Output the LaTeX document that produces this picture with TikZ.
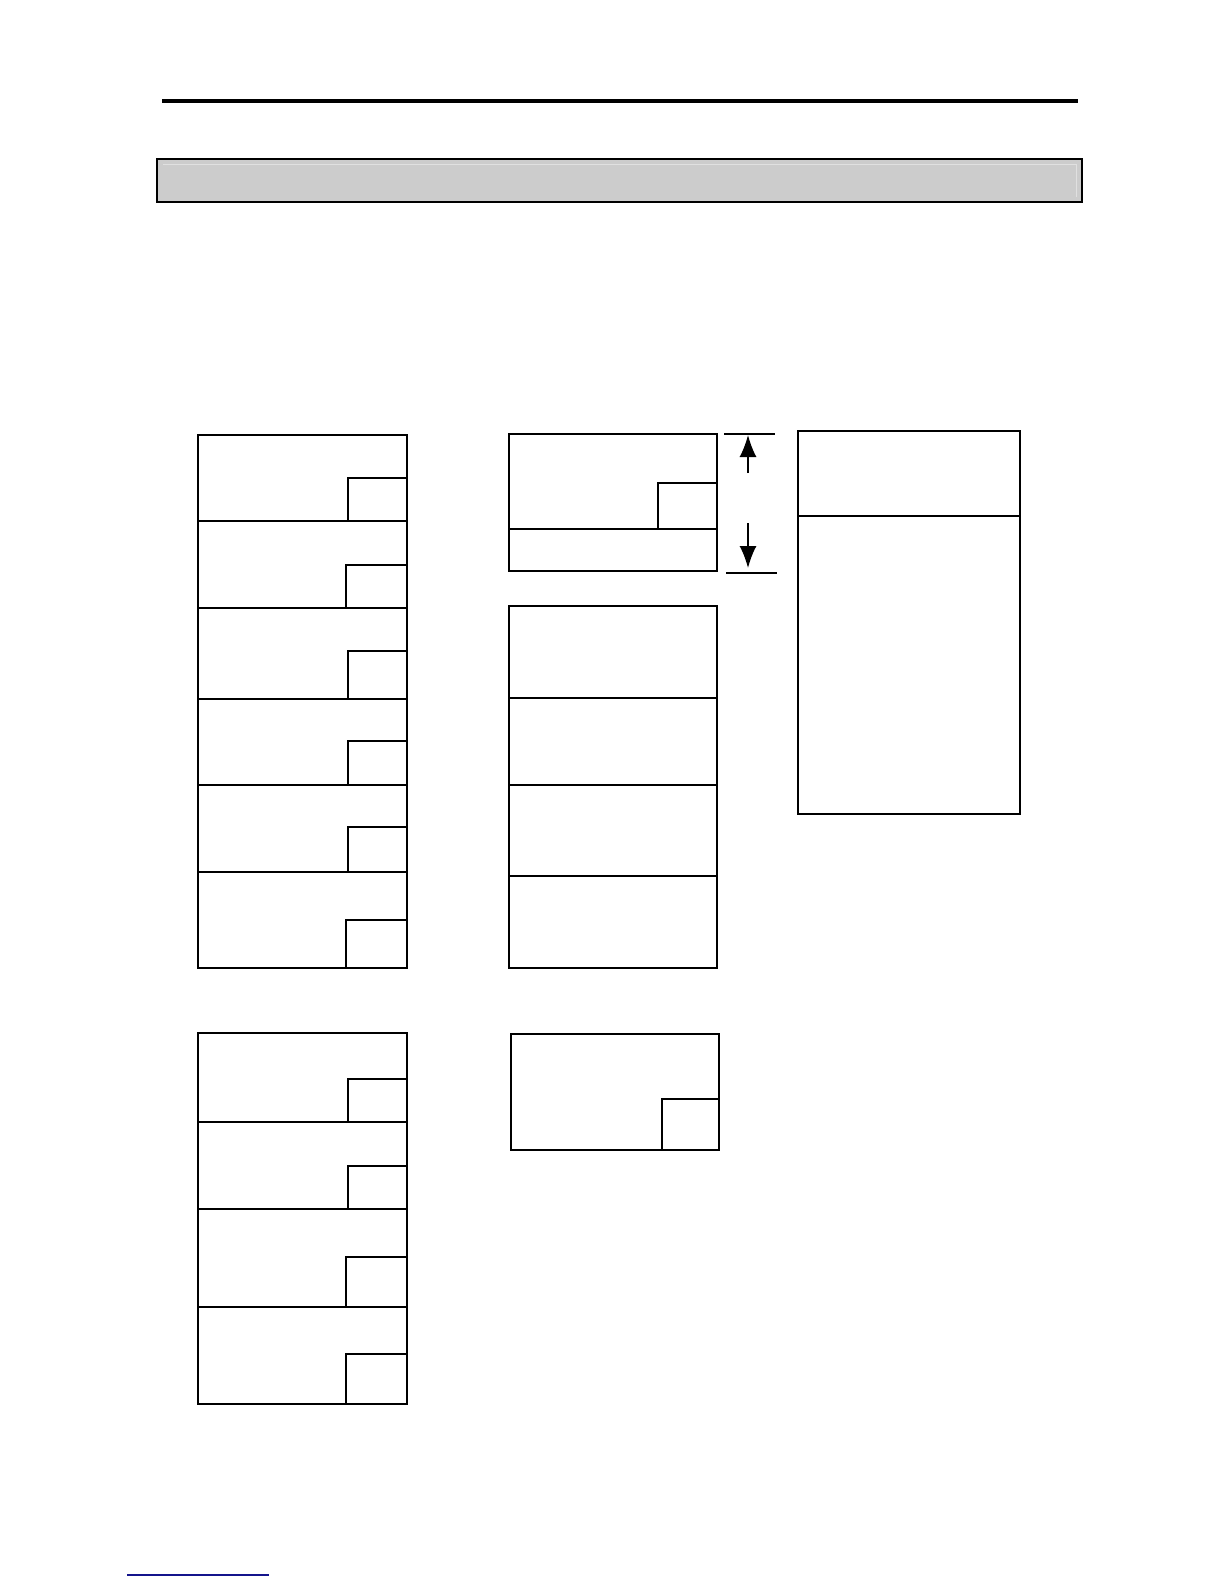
\documentclass[tikz,border=0pt]{standalone}
\usetikzlibrary{arrows.meta}
\begin{document}
\begin{tikzpicture}[x=0.5bp, y=-0.5bp, >={Latex[length=11bp,width=8.5bp]},
        frame/.style={draw, line width=1bp},
        tab/.style={draw, line width=1.1bp},
        dimline/.style={draw, line width=0.8bp}]
        \useasboundingbox (0,0) rectangle (1224,1584);
        % header rule and title bar
        \draw[line width=2bp] (162,101) -- (1078,101);
        \draw[fill=black!20, line width=0.8bp] (157,159) rectangle (1082,202);
        \draw[black!12, line width=0.5bp] (163,164) -- (1076,164) -- (1076,197);
        % left stack, upper
        \foreach \ytop/\ybot/\ytab/\xtab in {435/521/478/348, 521/608/565/346, 608/699/651/348,
                699/785/741/348, 785/872/827/348, 872/968/920/346}
        {
            \draw[frame] (198,\ytop) rectangle (407,\ybot);
            \draw[tab] (\xtab,\ybot) |- (407,\ytab);
        }
        % left stack, lower
        \foreach \ytop/\ybot/\ytab/\xtab in {1033/1122/1079/348, 1122/1209/1166/348,
                1209/1307/1257/346, 1307/1404/1354/346}
        {
            \draw[frame] (198,\ytop) rectangle (407,\ybot);
            \draw[tab] (\xtab,\ybot) |- (407,\ytab);
        }
        % middle top box with dimension
        \draw[frame] (509,434) rectangle (717,571);
        \draw[frame] (509,529) -- (717,529);
        \draw[tab] (658,529) |- (717,483);
        \coordinate (dimtop) at (748,435);
        \coordinate (dimbot) at (748,568);
        \coordinate (upstart) at (748,473);
        \coordinate (downstart) at (748,523);
        \draw[dimline] (724,434) -- (775,434);
        \draw[dimline] (726,573) -- (777,573);
        \draw[->, line width=0.8bp] (upstart) -- (dimtop);
        \draw[->, line width=0.8bp] (downstart) -- (dimbot);
        % middle stack
        \foreach \ytop/\ybot in {606/698, 698/785, 785/876, 876/968}
            \draw[frame] (509,\ytop) rectangle (717,\ybot);
        % middle lower box
        \draw[frame] (511,1034) rectangle (719,1150);
        \draw[frame] (662,1150) |- (719,1099);
        % right tall box
        \draw[line width=1.2bp] (798,431) rectangle (1020,814);
        \draw[frame] (798,516) -- (1020,516);
        % footer link underline
        \draw[color={rgb,255:red,20;green,20;blue,140}, line width=0.8bp] (127,1575) -- (269,1575);
    \end{tikzpicture}
\end{document}
